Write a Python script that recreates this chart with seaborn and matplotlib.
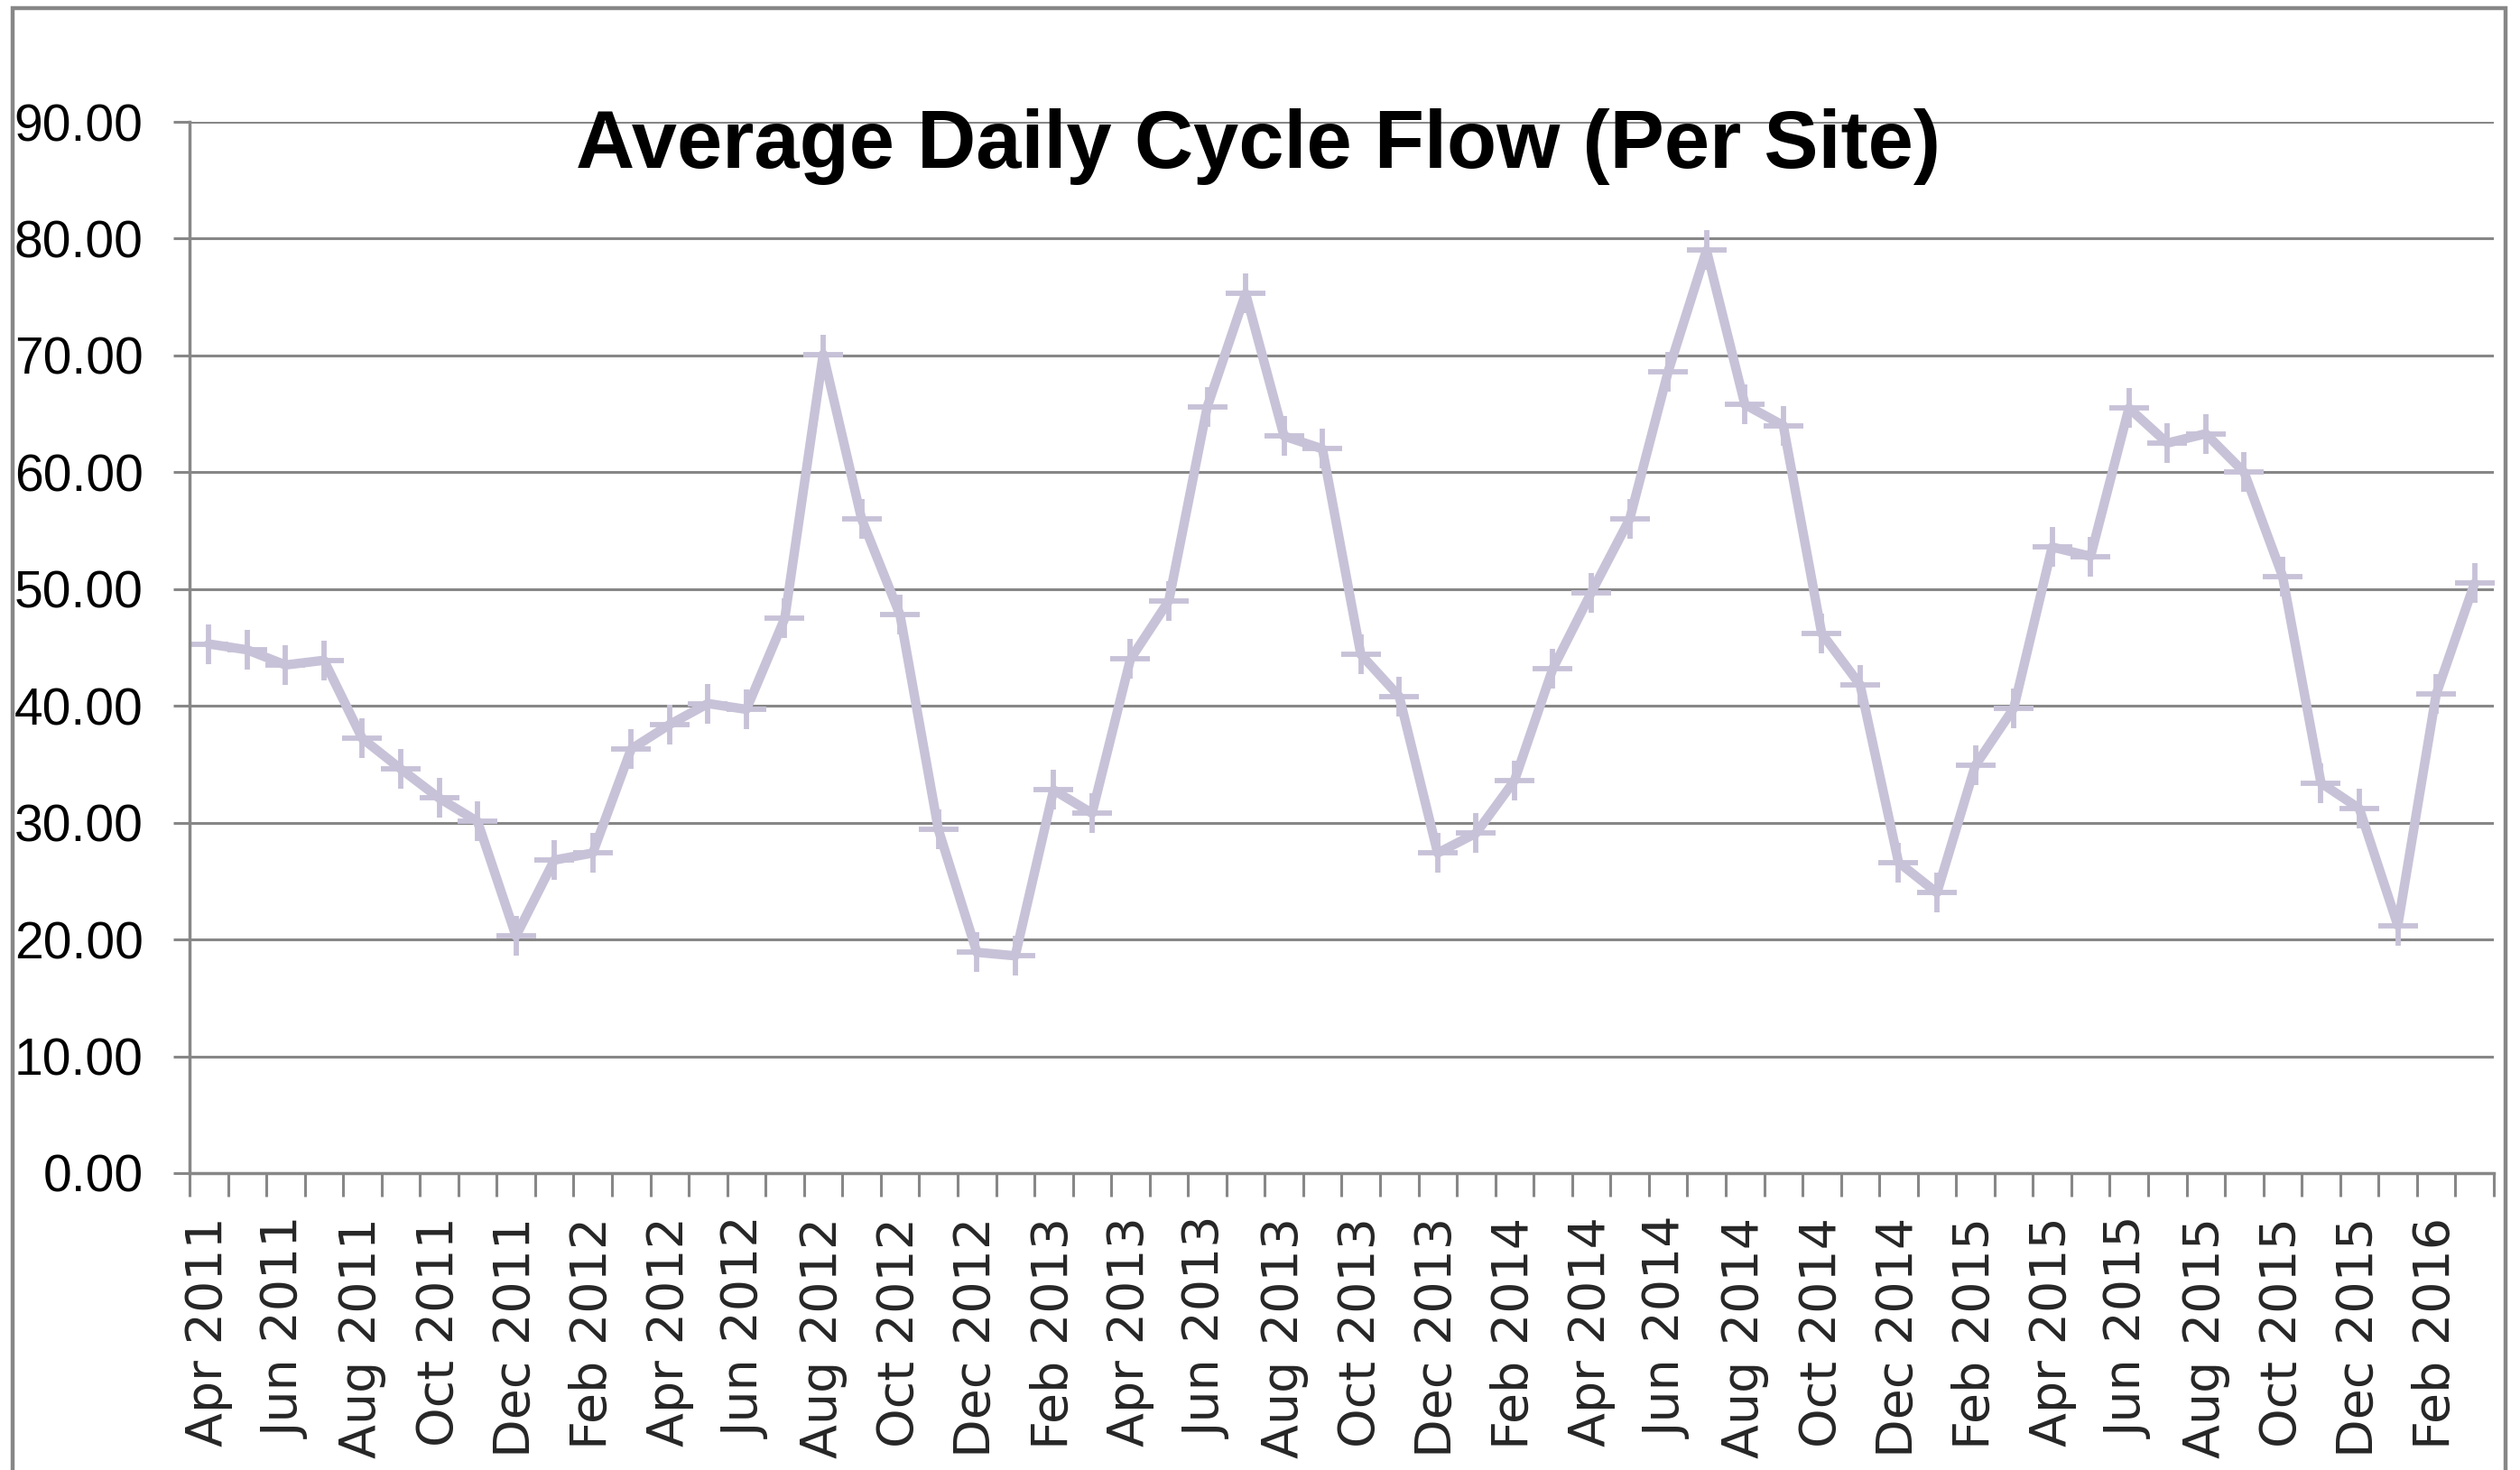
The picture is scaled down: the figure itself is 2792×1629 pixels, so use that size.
import numpy as np
import pandas as pd
import seaborn as sns
import matplotlib.pyplot as plt
from matplotlib.patches import Rectangle
from matplotlib.ticker import FormatStrFormatter

# Monthly categories Apr 2011 .. Mar 2016
months = pd.date_range("2011-04-01", periods=60, freq="MS").strftime("%b %Y").tolist()

# values
flow = [
    45.3, 44.8, 43.5, 43.9, 37.2, 34.6, 32.1, 30.1, 20.3, 26.8, 27.4, 36.3,
    38.4, 40.2, 39.7, 47.5, 70.1, 56.0, 47.8, 29.4, 18.9, 18.6, 32.8, 30.8,
    44.0, 49.0, 65.6, 75.3, 63.1, 62.0, 44.4, 40.8, 27.4, 29.1, 33.6, 43.2,
    49.7, 56.0, 68.6, 79.0, 65.8, 64.0, 46.2, 41.8, 26.6, 24.0, 34.9, 39.8,
    53.6, 52.8, 65.5, 62.5, 63.3, 60.0, 51.1, 33.4, 31.2, 21.2, 41.0, 50.5,
]
y_ticks = list(range(0, 100, 10))
title = "Average Daily Cycle Flow (Per Site)"

line_color = "#C8C2D8"
grid_color = "#878787"

sns.set_theme(style="white")
plt.rcParams["font.family"] = ["Liberation Sans", "DejaVu Sans"]

fig = plt.figure(figsize=(27.92, 16.29), dpi=100)
ax = fig.add_axes([0.0752, 0.2020, 0.9144, 0.7151])

df = pd.DataFrame({"month": months, "flow": flow})
sns.lineplot(
    data=df, x="month", y="flow", sort=False, ax=ax,
    color=line_color, linewidth=7.5,
    marker="+", markersize=32, markeredgewidth=4.2,
    markeredgecolor=line_color,
)

ax.set_xlim(-0.5, len(months) - 0.5)
ax.set_ylim(0, 90)
ax.set_xlabel("")
ax.set_ylabel("")

# y axis
ax.set_yticks(y_ticks)
ax.yaxis.set_major_formatter(FormatStrFormatter("%.2f"))
ax.grid(axis="y", color=grid_color, linewidth=2.2)
ax.set_axisbelow(True)
ax.tick_params(axis="y", left=True, length=13, width=2.2, color=grid_color,
               labelsize=41, pad=24, labelcolor="black")

# x axis: labels every second month, ticks at category boundaries
ax.set_xticks(range(0, len(months), 2))
ax.set_xticklabels(months[::2], rotation=90, family="DejaVu Sans", fontsize=40)
ax.set_xticks(np.arange(-0.5, len(months), 1), minor=True)
ax.tick_params(axis="x", which="major", length=0, pad=35)
ax.tick_params(axis="x", which="minor", bottom=True, length=19, width=2.2,
               color=grid_color)

for side in ["top", "right"]:
    ax.spines[side].set_visible(False)
for side in ["left", "bottom"]:
    ax.spines[side].set_color(grid_color)
    ax.spines[side].set_linewidth(2.5)

fig.text(0.4993, 0.886, title, ha="center", va="baseline",
         fontsize=65, fontweight="bold", color="black")

# outer chart border
fig.add_artist(Rectangle((14 / 2792, -0.02), (2776 - 14) / 2792, 1.02 - 9 / 1629,
                         transform=fig.transFigure, fill=False,
                         edgecolor=grid_color, linewidth=3.2))

fig.savefig("out.png", dpi=100)
